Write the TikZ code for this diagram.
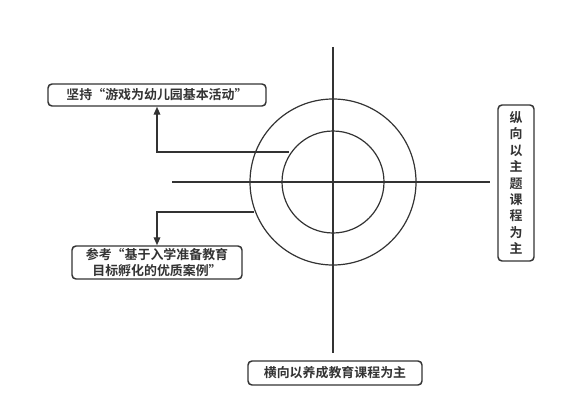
\documentclass[tikz,border=0pt]{standalone}
\usepackage{fontspec}
\newfontfamily\cjk[BoldFont={Noto Sans CJK SC Bold}]{Noto Sans CJK SC}
\usetikzlibrary{arrows.meta}
\definecolor{ink}{HTML}{333333}
\newcommand{\myLq}{\makebox[1em][r]{“}}
\newcommand{\myRq}{\makebox[1em][l]{”}}
\begin{document}
\begin{tikzpicture}[x=0.75pt,y=-0.75pt,
  box/.style={draw=ink,line width=1.1pt,rounded corners=3pt,inner sep=0pt,font=\cjk\bfseries\fontsize{9.7}{12.5}\selectfont,text=ink,align=center},
  ln/.style={draw=ink,line width=0.9pt},
  conn/.style={draw=ink,line width=1pt,-{Triangle[length=6pt,width=5pt]}}]
\useasboundingbox (0,0) rectangle (566,417);
\coordinate (c) at (333,182);
\draw[ln] (333,47) -- (333,353);
\draw[ln] (172,182) -- (490,182);
\draw[ln] (c) circle[radius=83];
\draw[ln] (c) circle[radius=51];
\node[box,minimum width=218*0.75pt,minimum height=22*0.75pt] (tl) at (157,95) {坚持\myLq 游戏为幼儿园基本活动\myRq};
\node[box,minimum width=170*0.75pt,minimum height=33*0.75pt] (bl) at (157,262.5) {参考\myLq 基于入学准备教育\\目标孵化的优质案例\myRq};
\node[box,minimum width=36*0.75pt,minimum height=156*0.75pt,font=\cjk\bfseries\fontsize{9.7}{12.3}\selectfont] (rt) at (516,183) {纵\\向\\以\\主\\题\\课\\程\\为\\主};
\node[box,minimum width=174*0.75pt,minimum height=24*0.75pt] (bt) at (335,373) {横向以养成教育课程为主};
\coordinate (p1) at (289,152);
\coordinate (p2) at (254,212);
\draw[conn] (p1) -| (tl.south);
\draw[conn] (p2) -| (bl.north);
\end{tikzpicture}
\end{document}
